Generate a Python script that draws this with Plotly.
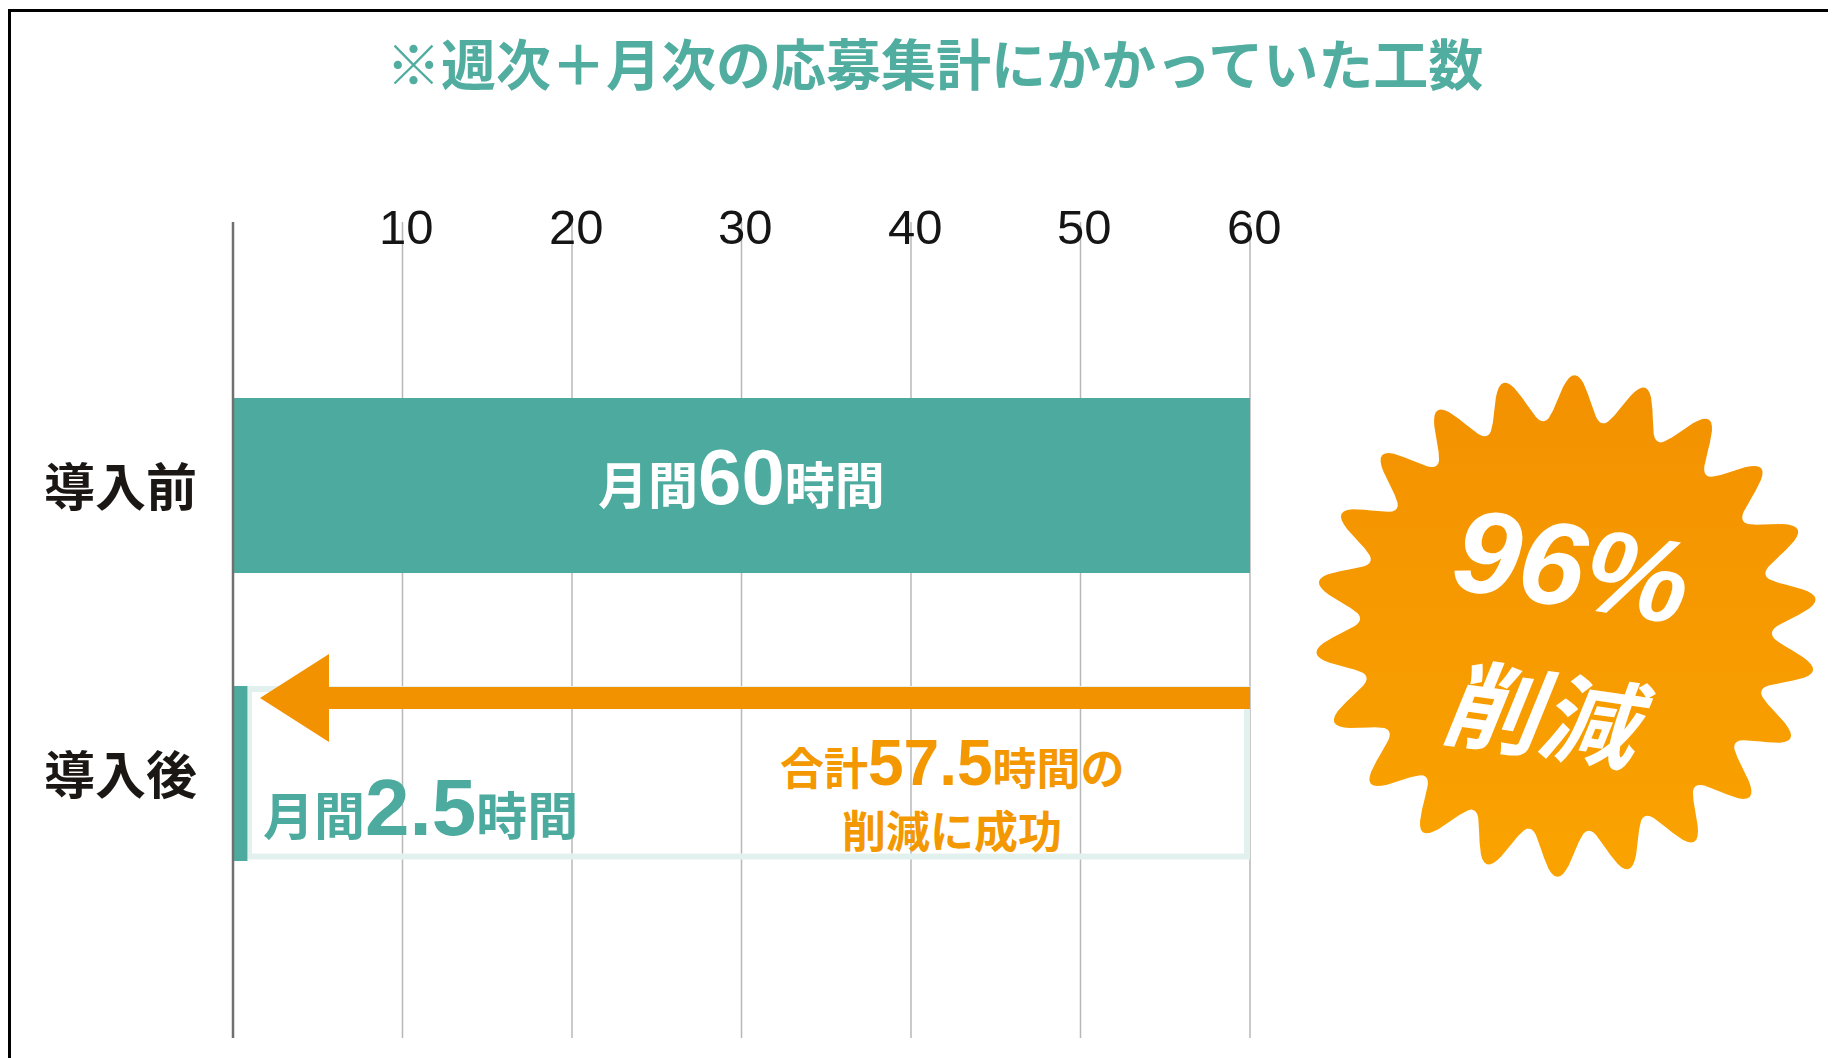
import math
import plotly.graph_objects as go

# page offset (body margin) compensation
OFF = 8
PAGE_W, PAGE_H = 1836, 1058
W, H = PAGE_W - OFF, PAGE_H - OFF

# ---------------- data ----------------
categories = ["導入前", "導入後"]
hours = [60, 2.5]                 # labelled monthly hours
bar_lengths = [60, 0.85]          # bar lengths as drawn in the picture
reduced_hours = 57.5
reduction_pct = 96
tick_values = [10, 20, 30, 40, 50, 60]
tick_labels = ["10", "20", "30", "40", "50", "60"]
title_text = "※週次＋月次の応募集計にかかっていた工数"

# ---------------- styles ----------------
TEAL = "#4cab9e"
TITLE_TEAL = "#50ad9f"
ORANGE = "#f39200"
ORANGE_TXT = "#f39800"
BOX = "#e3f1ee"
JP = "Noto Sans CJK JP"
LAT = "Liberation Sans"

X0_PX, X60_PX = 233 - OFF, 1250 - OFF
unit = (X60_PX - X0_PX) / 60.0
x_range = [-X0_PX / unit, 60 + (W - X60_PX) / unit]
ROW0, ROWSTEP = 485.5 - OFF, 288.0
y_range = [(H - ROW0) / ROWSTEP, -ROW0 / ROWSTEP]


def P(px):
    return (px - OFF) / W


def Q(py):
    return 1 - (py - OFF) / H


fig = go.Figure()

fig.add_trace(go.Bar(
    x=bar_lengths, y=categories, orientation="h",
    width=175 / ROWSTEP,
    marker=dict(color=TEAL, line=dict(width=0)),
    hoverinfo="skip", showlegend=False,
))

# starburst (decoration) on pixel axes
cx, cy, r_out, r_in, n = 1566, 626, 251, 206, 22
th0 = math.radians(-88)
sx, sy = [], []
steps = n * 24
for i in range(steps + 1):
    th = 2 * math.pi * i / steps
    f = (1 + math.cos(n * (th - th0))) / 2
    r = r_in + (r_out - r_in) * (f ** 1.1)
    sx.append(cx + r * math.cos(th))
    sy.append(cy + r * math.sin(th))
fig.add_trace(go.Scatter(
    x=sx, y=sy, xaxis="x2", yaxis="y2", mode="lines",
    line=dict(width=0), fill="toself",
    fillgradient=dict(type="vertical", start=375, stop=875,
                      colorscale=[[0, "#f39100"], [1, "#faa300"]]),
    hoverinfo="skip", showlegend=False,
))

shapes = []
# gridlines and axis line
for t in tick_values:
    shapes.append(dict(type="line", xref="x", yref="paper", x0=t, x1=t,
                       y0=Q(222), y1=Q(1038), layer="below",
                       line=dict(color="#b8b8b8", width=1.5)))
shapes.append(dict(type="line", xref="x", yref="paper", x0=0, x1=0,
                   y0=Q(222), y1=Q(1038), layer="above",
                   line=dict(color="#707070", width=2.5)))
# light outline box for "after"
shapes.append(dict(type="rect", xref="paper", yref="paper",
                   x0=P(249), x1=P(1247), y0=Q(689), y1=Q(856.5),
                   layer="below", line=dict(color=BOX, width=6)))
# arrow
pts = [(1250, 687), (329, 687), (329, 654), (260, 698), (329, 742), (329, 709), (1250, 709)]
path = "M " + " L ".join(f"{P(a):.5f},{Q(b):.5f}" for a, b in pts) + " Z"
shapes.append(dict(type="path", xref="paper", yref="paper", path=path,
                   fillcolor=ORANGE, line=dict(width=0), layer="above"))
# frame
shapes.append(dict(type="line", xref="paper", yref="paper", x0=P(8), x1=1,
                   y0=Q(10.5), y1=Q(10.5), line=dict(color="#000", width=3)))
shapes.append(dict(type="line", xref="paper", yref="paper", x0=P(9.5), x1=P(9.5),
                   y0=Q(9), y1=0, line=dict(color="#000", width=3)))

C = dict(xanchor="center", yanchor="middle", showarrow=False)
ann = []
ann.append(dict(text=f"<b>{title_text}</b>", xref="paper", yref="paper",
                x=P(934), y=Q(61), **C,
                font=dict(family=JP, size=55, color=TITLE_TEAL, weight=900)))
for t, lab in zip(tick_values, tick_labels):
    ann.append(dict(text=lab, xref="x", yref="paper", x=t, y=Q(227),
                    xshift=4, **C,
                    font=dict(family=LAT, size=49, color="#151515")))
for cat, py in zip(categories, [484, 772]):
    ann.append(dict(text=f"<b>{cat}</b>", xref="paper", yref="paper",
                    x=P(120.6), y=Q(py), **C,
                    font=dict(family=JP, size=51, color="#1a1714")))


def num(v, size):
    return f"<span style='font-family:{LAT};font-size:{size}px'>{v:g}</span>"


ann.append(dict(text=f"<b>月間{num(hours[0], 78)}時間</b>", xref="x", yref="y",
                x=bar_lengths[0] / 2, y=categories[0], yshift=9, **C,
                font=dict(family=JP, size=50, color="white")))
ann.append(dict(text=f"<b>月間{num(hours[1], 80)}時間</b>", xref="paper", yref="paper",
                x=P(261), y=Q(807), xanchor="left", yanchor="middle", showarrow=False,
                font=dict(family=JP, size=51, color=TEAL)))
ann.append(dict(text=f"<b>合計{num(reduced_hours, 64)}時間の</b>", xref="paper", yref="paper",
                x=P(953), y=Q(763), **C,
                font=dict(family=JP, size=44, color=ORANGE_TXT)))
ann.append(dict(text="<b>削減に成功</b>", xref="paper", yref="paper",
                x=P(952), y=Q(829), **C,
                font=dict(family=JP, size=44, color=ORANGE_TXT)))
ann.append(dict(text=f"<b>{reduction_pct}%</b>", xref="paper", yref="paper",
                x=P(1572), y=Q(566), textangle=9, **C,
                font=dict(family=LAT, size=118, color="white", style="italic")))
ann.append(dict(text="<b>削減</b>", xref="paper", yref="paper",
                x=P(1548), y=Q(709), textangle=8, **C,
                font=dict(family=JP, size=97, color="white", style="italic")))

fig.update_layout(
    width=W, height=H,
    margin=dict(l=0, r=0, t=0, b=0, pad=0),
    paper_bgcolor="white", plot_bgcolor="white",
    xaxis=dict(range=x_range, visible=False, fixedrange=True),
    yaxis=dict(type="category", categoryorder="array", categoryarray=categories,
               range=y_range, visible=False, fixedrange=True),
    xaxis2=dict(range=[OFF, PAGE_W], overlaying="x", visible=False, anchor="y2"),
    yaxis2=dict(range=[PAGE_H, OFF], overlaying="y", visible=False, anchor="x2"),
    shapes=shapes, annotations=ann, showlegend=False,
)

fig.write_html("out.html")
